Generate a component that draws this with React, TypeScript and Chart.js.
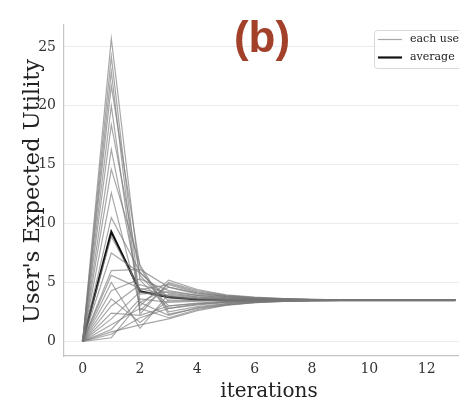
import React, { useEffect, useRef } from "react";
import { Chart, registerables } from "chart.js";

Chart.register(...registerables);

const iterations = [0, 1, 2, 3, 4, 5, 6, 7, 8, 9, 10, 11, 12, 13];
const xTickValues = [0, 2, 4, 6, 8, 10, 12];
const yTickValues = [0, 5, 10, 15, 20, 25];

const userCurves: number[][] = [
  [0, 25.7, 5.2, 2.8, 3.1, 3.28, 3.38, 3.44, 3.47, 3.49, 3.5, 3.5, 3.5, 3.5],
  [0, 24.2, 3.3, 4.6, 4.1, 3.82, 3.68, 3.6, 3.55, 3.52, 3.51, 3.5, 3.5, 3.5],
  [0, 22.9, 2.3, 5.0, 4.3, 3.9, 3.72, 3.62, 3.56, 3.53, 3.51, 3.5, 3.5, 3.5],
  [0, 21.7, 6.3, 2.3, 2.8, 3.1, 3.28, 3.39, 3.45, 3.48, 3.49, 3.5, 3.5, 3.5],
  [0, 20.0, 2.6, 4.9, 4.2, 3.85, 3.68, 3.6, 3.55, 3.52, 3.51, 3.5, 3.5, 3.5],
  [0, 18.4, 5.6, 3.0, 3.2, 3.33, 3.41, 3.45, 3.48, 3.49, 3.5, 3.5, 3.5, 3.5],
  [0, 16.3, 4.0, 4.2, 3.9, 3.72, 3.62, 3.56, 3.53, 3.51, 3.5, 3.5, 3.5, 3.5],
  [0, 14.6, 6.5, 2.5, 2.95, 3.2, 3.34, 3.42, 3.46, 3.48, 3.5, 3.5, 3.5, 3.5],
  [0, 12.6, 3.0, 5.2, 4.4, 3.95, 3.75, 3.63, 3.56, 3.53, 3.51, 3.5, 3.5, 3.5],
  [0, 10.5, 5.9, 3.4, 3.45, 3.47, 3.48, 3.49, 3.5, 3.5, 3.5, 3.5, 3.5, 3.5],
  [0, 8.9, 4.4, 4.8, 4.1, 3.8, 3.66, 3.58, 3.54, 3.52, 3.5, 3.5, 3.5, 3.5],
  [0, 7.5, 5.8, 3.7, 3.6, 3.55, 3.52, 3.51, 3.5, 3.5, 3.5, 3.5, 3.5, 3.5],
  [0, 6.0, 6.1, 4.6, 4.0, 3.75, 3.63, 3.56, 3.53, 3.51, 3.5, 3.5, 3.5, 3.5],
  [0, 5.6, 4.5, 3.9, 3.7, 3.6, 3.55, 3.52, 3.51, 3.5, 3.5, 3.5, 3.5, 3.5],
  [0, 5.0, 1.1, 4.0, 3.75, 3.62, 3.56, 3.53, 3.51, 3.5, 3.5, 3.5, 3.5, 3.5],
  [0, 4.3, 5.3, 4.3, 3.9, 3.7, 3.6, 3.55, 3.52, 3.5, 3.5, 3.5, 3.5, 3.5],
  [0, 3.6, 1.6, 3.5, 3.5, 3.5, 3.5, 3.5, 3.5, 3.5, 3.5, 3.5, 3.5, 3.5],
  [0, 3.0, 4.8, 4.1, 3.8, 3.65, 3.57, 3.53, 3.51, 3.5, 3.5, 3.5, 3.5, 3.5],
  [0, 2.4, 2.2, 3.0, 3.25, 3.38, 3.44, 3.47, 3.49, 3.5, 3.5, 3.5, 3.5, 3.5],
  [0, 1.9, 4.2, 3.8, 3.65, 3.57, 3.53, 3.51, 3.5, 3.5, 3.5, 3.5, 3.5, 3.5],
  [0, 1.4, 2.8, 2.0, 2.7, 3.1, 3.3, 3.4, 3.45, 3.48, 3.5, 3.5, 3.5, 3.5],
  [0, 1.0, 3.6, 3.3, 3.4, 3.45, 3.48, 3.49, 3.5, 3.5, 3.5, 3.5, 3.5, 3.5],
  [0, 0.6, 2.0, 2.8, 3.15, 3.32, 3.41, 3.46, 3.48, 3.5, 3.5, 3.5, 3.5, 3.5],
  [0, 0.3, 3.3, 2.2, 2.85, 3.18, 3.34, 3.42, 3.46, 3.48, 3.5, 3.5, 3.5, 3.5],
  [0, 0.8, 1.4, 1.9, 2.6, 3.05, 3.28, 3.39, 3.45, 3.48, 3.5, 3.5, 3.5, 3.5],
];

const averageCurve = [0, 9.3, 4.25, 3.75, 3.55, 3.48, 3.47, 3.49, 3.5, 3.5, 3.5, 3.5, 3.5, 3.5];

const legendLabels = ["each user", "average"];
const panelLabel = "(b)";
const xTitle = "iterations";
const yTitle = "User's Expected Utility";

const USER_COLOR = "rgba(120,120,120,0.65)";
const AVG_COLOR = "#111111";
const SERIF = "'DejaVu Serif', serif";

const decorPlugin = {
  id: "decor",
  afterDraw(chart: any) {
    const ctx = chart.ctx;
    const area = chart.chartArea;
    ctx.save();
    // panel label
    ctx.fillStyle = "#a3402a";
    ctx.font = "bold 44px 'Liberation Sans', Arial, sans-serif";
    ctx.textAlign = "center";
    ctx.textBaseline = "alphabetic";
    ctx.fillText(panelLabel, 262, 52);

    // axis titles
    ctx.fillStyle = "#222";
    ctx.font = `20px ${SERIF}`;
    ctx.textAlign = "center";
    ctx.textBaseline = "alphabetic";
    ctx.fillText(xTitle, (area.left + area.right) / 2, 397);

    ctx.save();
    ctx.font = `22.5px ${SERIF}`;
    ctx.translate(39, 191);
    ctx.rotate(-Math.PI / 2);
    ctx.fillText(yTitle, 0, 0);
    ctx.restore();

    // legend
    const lx = 374.5, ly = 30.5, lw = 100, lh = 38;
    ctx.fillStyle = "rgba(255,255,255,0.85)";
    ctx.strokeStyle = "#d8d8d8";
    ctx.lineWidth = 1;
    ctx.beginPath();
    if (ctx.roundRect) ctx.roundRect(lx, ly, lw, lh, 3);
    else ctx.rect(lx, ly, lw, lh);
    ctx.fill();
    ctx.stroke();

    const rows = [
      { y: 39.5, color: USER_COLOR, w: 1.2 },
      { y: 57.5, color: AVG_COLOR, w: 2.2 },
    ];
    ctx.font = `11px ${SERIF}`;
    ctx.textAlign = "left";
    ctx.textBaseline = "middle";
    rows.forEach((r, i) => {
      ctx.strokeStyle = r.color;
      ctx.lineWidth = r.w;
      ctx.beginPath();
      ctx.moveTo(378, r.y);
      ctx.lineTo(402, r.y);
      ctx.stroke();
      ctx.fillStyle = "#222";
      ctx.fillText(legendLabels[i], 410, r.y);
    });
    ctx.restore();
  },
};

export default function App() {
  const canvasRef = useRef<HTMLCanvasElement | null>(null);

  useEffect(() => {
    const canvas = canvasRef.current;
    if (!canvas) return;

    const userSets = userCurves.map((row, i) => ({
      label: `user ${i + 1}`,
      data: row.map((v, j) => ({ x: iterations[j], y: v })),
      borderColor: USER_COLOR,
      borderWidth: 1.2,
      pointRadius: 0,
      tension: 0,
      fill: false,
    }));

    const avgSet = {
      label: "average",
      data: averageCurve.map((v, j) => ({ x: iterations[j], y: v })),
      borderColor: AVG_COLOR,
      borderWidth: 2.2,
      pointRadius: 0,
      tension: 0,
      fill: false,
    };

    const chart = new Chart(canvas, {
      type: "line",
      data: { datasets: [...userSets, avgSet] },
      options: {
        animation: false,
        responsive: false,
        devicePixelRatio: 1,
        layout: { padding: { top: 24.6, left: 0, right: 0, bottom: 0 } },
        plugins: { legend: { display: false }, tooltip: { enabled: false } },
        scales: {
          x: {
            type: "linear",
            min: -0.65,
            max: 13.65,
            afterBuildTicks: (s: any) => {
              s.ticks = xTickValues.map((v) => ({ value: v }));
            },
            afterFit: (s: any) => {
              s.height = 44;
            },
            grid: { display: false, drawTicks: false },
            border: { display: true, color: "#c4c4c4", width: 1.2 },
            ticks: {
              font: { family: SERIF, size: 14 },
              color: "#333",
              padding: 5,
              maxRotation: 0,
            },
          },
          y: {
            type: "linear",
            min: -1.25,
            max: 26.9,
            afterBuildTicks: (s: any) => {
              s.ticks = yTickValues.map((v) => ({ value: v }));
            },
            afterFit: (s: any) => {
              s.width = 64;
            },
            grid: { color: "#ebebeb", lineWidth: 1, drawTicks: false },
            border: { display: true, color: "#c4c4c4", width: 1.2 },
            ticks: {
              font: { family: SERIF, size: 14 },
              color: "#333",
              padding: 8,
            },
          },
        },
      },
      plugins: [decorPlugin],
    });

    return () => chart.destroy();
  }, []);

  return (
    <div
      style={{
        position: "fixed",
        left: 0,
        top: 0,
        width: 459,
        height: 400,
        overflow: "hidden",
        background: "#fff",
      }}
    >
      <canvas ref={canvasRef} width={474} height={400} style={{ display: "block" }} />
    </div>
  );
}
